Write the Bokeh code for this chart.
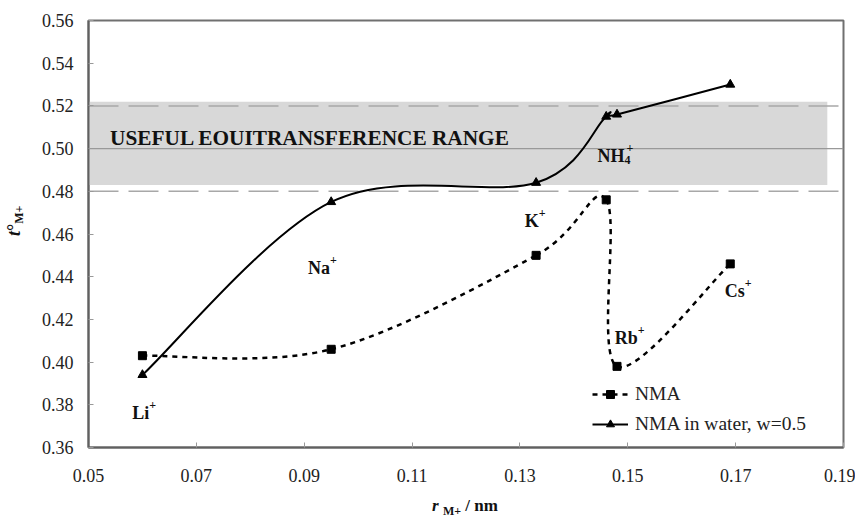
from bokeh.plotting import figure
from bokeh.models import (Range1d, Span, BoxAnnotation, Legend, LegendItem, Div,
                          ColumnDataSource, FixedTicker, PrintfTickFormatter)
from bokeh.layouts import row, column
from bokeh.core.properties import value
from bokeh.embed import file_html
from bokeh.resources import INLINE

# ---------------- data ----------------
ions = ["Li", "Na", "K", "NH4", "Rb", "Cs"]
radius = [0.060, 0.095, 0.133, 0.146, 0.148, 0.169]
t_nma = [0.403, 0.406, 0.450, 0.476, 0.398, 0.446]
t_water = [0.394, 0.475, 0.484, 0.515, 0.516, 0.530]

x_ticks = [0.05, 0.07, 0.09, 0.11, 0.13, 0.15, 0.17, 0.19]
y_ticks = [0.36, 0.38, 0.40, 0.42, 0.44, 0.46, 0.48, 0.50, 0.52, 0.54, 0.56]

band_low, band_high = 0.483, 0.522
band_x_start, band_x_end = 0.049, 0.187
limit_lines = [0.48, 0.52]
mid_line = 0.50

label_main = ["Li", "Na", "K", "NH", "Rb", "Cs"]
label_x = [0.0581, 0.0907, 0.1309, 0.1444, 0.1476, 0.1680]
label_y = [0.376, 0.444, 0.4663, 0.4963, 0.4115, 0.4335]
sup_dx = [17, 22, 14, 29, 23, 20]

band_title = "USEFUL EOUITRANSFERENCE RANGE"

SERIF = "Liberation Serif"
YDIV_W = 30
P_W, P_H = 825, 487
XDIV_H = 32

p = figure(width=P_W, height=P_H, output_backend="svg", toolbar_location=None,
           x_range=Range1d(0.05, 0.19), y_range=Range1d(0.36, 0.56),
           min_border_left=58, min_border_right=12, min_border_top=20,
           min_border_bottom=40)
p.xgrid.visible = False
p.ygrid.visible = False
p.outline_line_color = "#707070"
p.outline_line_width = 2
p.background_fill_color = "white"
p.border_fill_color = "white"

for ax, ticks in ((p.xaxis[0], x_ticks), (p.yaxis[0], y_ticks)):
    ax.ticker = FixedTicker(ticks=ticks)
    ax.formatter = PrintfTickFormatter(format="%.2f")
    ax.axis_line_color = "#606060"
    ax.axis_line_width = 2
    ax.major_tick_in = 5
    ax.major_tick_out = 0
    ax.major_tick_line_color = "#999999"
    ax.minor_tick_line_color = None
    ax.major_label_text_font = SERIF
    ax.major_label_text_font_size = "18px"
    ax.major_label_text_color = "#222222"
p.xaxis.major_label_standoff = 21
p.yaxis.major_label_standoff = 15

# band and reference lines
band = BoxAnnotation(left=band_x_start, right=band_x_end, bottom=band_low, top=band_high,
                     fill_color="#d8d8d8", fill_alpha=1.0, line_alpha=0, level="underlay")
p.add_layout(band)
for v in limit_lines:
    p.add_layout(Span(location=v, dimension="width", line_color="#a8a8a8",
                      line_width=1.5, line_dash="30 10", level="underlay"))
p.add_layout(Span(location=mid_line, dimension="width", line_color="#999999",
                  line_width=1.2, level="underlay"))


def smooth(xs, ys):
    n = len(xs)
    d = dict(x0=[], y0=[], x1=[], y1=[], cx0=[], cy0=[], cx1=[], cy1=[])
    for i in range(n - 1):
        pm = max(i - 1, 0)
        pp = min(i + 2, n - 1)
        d["x0"].append(xs[i]); d["y0"].append(ys[i])
        d["x1"].append(xs[i + 1]); d["y1"].append(ys[i + 1])
        d["cx0"].append(xs[i] + (xs[i + 1] - xs[pm]) / 6)
        d["cy0"].append(ys[i] + (ys[i + 1] - ys[pm]) / 6)
        d["cx1"].append(xs[i + 1] - (xs[pp] - xs[i]) / 6)
        d["cy1"].append(ys[i + 1] - (ys[pp] - ys[i]) / 6)
    return ColumnDataSource(d)


NMA_DASH = "5 5"
p.bezier(x0="x0", y0="y0", x1="x1", y1="y1", cx0="cx0", cy0="cy0", cx1="cx1", cy1="cy1",
         source=smooth(radius, t_nma), line_color="black", line_width=2.5, line_dash=NMA_DASH)
p.bezier(x0="x0", y0="y0", x1="x1", y1="y1", cx0="cx0", cy0="cy0", cx1="cx1", cy1="cy1",
         source=smooth(radius, t_water), line_color="black", line_width=2)

sq = p.scatter(radius, t_nma, marker="square", size=8, color="black")
tri = p.scatter(radius, t_water, marker="triangle", size=9, color="black")

nan = float("nan")
dummy_nma = p.line([nan], [nan], line_color="black", line_width=2.5, line_dash=NMA_DASH)
dummy_w = p.line([nan], [nan], line_color="black", line_width=2)

legend = Legend(items=[LegendItem(label="NMA", renderers=[dummy_nma, sq]),
                       LegendItem(label="NMA in water, w=0.5", renderers=[dummy_w, tri])],
                location=(504, 12), margin=0, padding=0, spacing=8,
                glyph_width=36, glyph_height=20, label_height=20, label_standoff=7,
                label_text_font=SERIF, label_text_font_size="19.5px",
                label_text_color="#222222",
                border_line_color=None, background_fill_alpha=0)
p.add_layout(legend)

# ion labels
src = ColumnDataSource(dict(x=label_x, y=label_y, t=label_main, dx=sup_dx,
                            plus=["+"] * len(label_x)))
p.text(x="x", y="y", text="t", source=src, text_font=value(SERIF),
       text_font_style="bold", text_font_size="18px", text_color="#111111",
       text_baseline="alphabetic", text_align="left")
p.text(x="x", y="y", text="plus", x_offset="dx", y_offset=-8, source=src,
       text_font=value(SERIF), text_font_style="bold", text_font_size="12px",
       text_color="#111111", text_baseline="alphabetic", text_align="left")
p.text(x=[label_x[3]], y=[label_y[3]], text=["4"], x_offset=27, y_offset=4,
       text_font=value(SERIF), text_font_style="bold", text_font_size="12px",
       text_color="#111111", text_baseline="alphabetic", text_align="left")

p.text(x=[0.054], y=[0.505], text=[band_title], text_font=value(SERIF),
       text_font_style="bold", text_font_size="21.3px", text_color="#111111",
       text_baseline="alphabetic", text_align="left")

# axis titles (rich text)
ylabel_html = (
    f'<div style="box-sizing:border-box; width:{YDIV_W}px; height:{P_H}px; '
    'writing-mode:vertical-rl; transform:rotate(180deg); padding-top:251px; '
    'font-family:Liberation Serif; font-weight:bold; font-size:18px; line-height:28px; '
    'color:#111; white-space:nowrap;">'
    '<i>t</i>°<sub style="font-size:12px;">M+</sub></div>'
)
xlabel_html = (
    f'<div style="box-sizing:border-box; width:{YDIV_W + P_W}px; height:{XDIV_H}px; '
    'padding-left:432px; padding-top:9px; font-family:Liberation Serif; font-weight:bold; '
    'font-size:17px; line-height:20px; color:#111; white-space:nowrap;">'
    '<i>r</i> <sub style="font-size:12px;">M+</sub> / nm</div>'
)
ydiv = Div(text=ylabel_html, width=YDIV_W, height=P_H, margin=0)
xdiv = Div(text=xlabel_html, width=YDIV_W + P_W, height=XDIV_H, margin=0)

layout = column(row(ydiv, p, spacing=0, margin=0), xdiv, spacing=0, margin=0)

open("out.html", "w").write(file_html(layout, INLINE))
